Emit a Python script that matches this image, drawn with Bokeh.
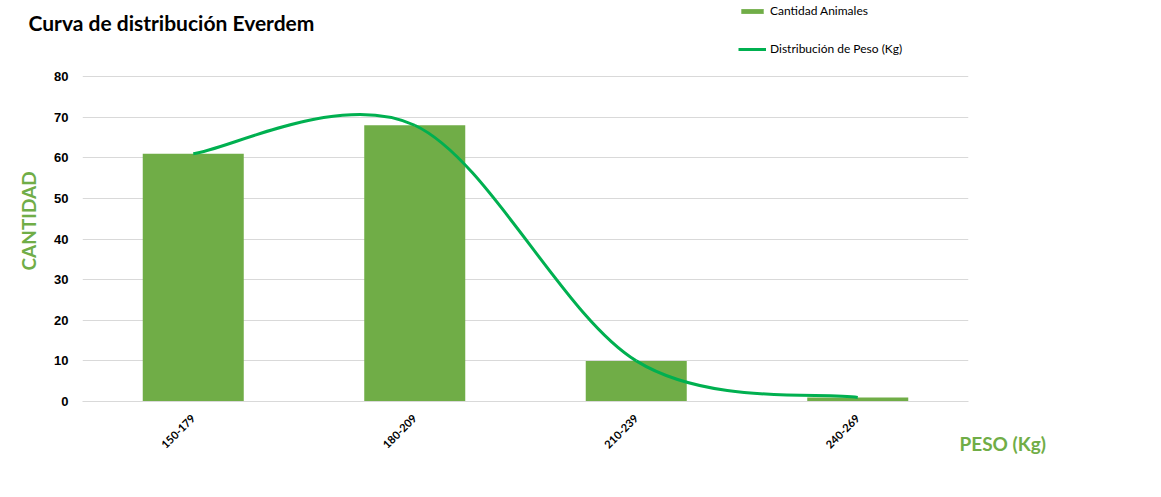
import numpy as np
from bokeh.plotting import figure
from bokeh.models import (Range1d, FixedTicker, SingleIntervalTicker, Title, Label,
                          Legend, LegendItem, ColumnDataSource)
from bokeh.embed import file_html
from bokeh.resources import INLINE

# ---- data ----
categories = ["150-179", "180-209", "210-239", "240-269"]
cantidad_animales = [61, 68, 10, 1]
distribucion_peso = [61, 68, 10, 1]
y_max = 80
y_step = 10

title_text = "Curva de distribución Everdem"
x_title = "PESO (Kg)"
y_title = "CANTIDAD"
legend_bar = "Cantidad Animales"
legend_line = "Distribución de Peso (Kg)"

BAR_COLOR = "#70AD47"
LINE_COLOR = "#00B050"
GRID_COLOR = "#D9D9D9"

W, H = 1161, 497
HEAD_H = 67                         # header strip (title + legend)
FL, FR, FT, FB = 82, 968, 75, 401   # frame edges on the whole page
n = len(categories)
xs = np.arange(n) + 0.5
ys = np.array(distribucion_peso, dtype=float)

# ---------------- header strip: title + legend ----------------
head = figure(width=W, height=HEAD_H, output_backend="svg", toolbar_location=None,
              x_range=Range1d(-100, -99), y_range=Range1d(-100, -99),
              x_axis_location=None, y_axis_location=None,
              min_border_left=0, min_border_right=0, min_border_top=0,
              min_border_bottom=0)
head.outline_line_color = None
head.grid.visible = False
head.border_fill_color = "white"

# legend keys: same series, far outside this strip's visible range
key_bar = head.vbar(x=xs, top=cantidad_animales, width=0.456, color=BAR_COLOR,
                    line_color=None)
key_line = head.line(x=xs, y=ys, line_color=LINE_COLOR, line_width=3)

head.add_layout(Label(x=28, y=HEAD_H - 22, x_units="screen", y_units="screen",
                      text=title_text, text_font="Lato", text_font_style="bold",
                      text_font_size="21px", text_color="black",
                      text_baseline="alphabetic"))
legend = Legend(items=[LegendItem(label=legend_bar, renderers=[key_bar]),
                       LegendItem(label=legend_line, renderers=[key_line])],
                location=(738, HEAD_H - 56), orientation="vertical",
                glyph_width=28, glyph_height=6, label_height=14, spacing=23,
                padding=0, margin=0, border_line_color=None,
                background_fill_alpha=0, label_text_font="Lato",
                label_text_font_size="12px", label_standoff=4,
                label_text_color="black")
head.add_layout(legend)

# ---------------- main chart ----------------
MH = H - HEAD_H
frame_h = FB - FT
p = figure(width=W, height=MH, output_backend="svg", toolbar_location=None,
           x_range=Range1d(0, n), y_range=Range1d(0, y_max * frame_h / (frame_h - 1)),
           min_border_left=FL, min_border_right=W - FR, min_border_top=FT - HEAD_H,
           min_border_bottom=H - FB)
p.outline_line_color = None
p.background_fill_color = "white"
p.border_fill_color = "white"

bars = p.vbar(x=xs, top=cantidad_animales, width=0.456, color=BAR_COLOR,
              line_color=None)

# smooth curve through the series (Catmull-Rom style Bezier segments)
seg = dict(x0=[], y0=[], x1=[], y1=[], cx0=[], cy0=[], cx1=[], cy1=[])
for i in range(n - 1):
    pr = max(i - 1, 0)
    nx = min(i + 2, n - 1)
    seg["x0"].append(xs[i]); seg["y0"].append(ys[i])
    seg["x1"].append(xs[i + 1]); seg["y1"].append(ys[i + 1])
    seg["cx0"].append(xs[i] + (xs[i + 1] - xs[pr]) / 6)
    seg["cy0"].append(ys[i] + (ys[i + 1] - ys[pr]) / 6)
    seg["cx1"].append(xs[i + 1] - (xs[nx] - xs[i]) / 6)
    seg["cy1"].append(ys[i + 1] - (ys[nx] - ys[i]) / 6)
curve = p.bezier(x0="x0", y0="y0", x1="x1", y1="y1", cx0="cx0", cy0="cy0",
                 cx1="cx1", cy1="cy1", source=ColumnDataSource(seg),
                 line_color=LINE_COLOR, line_width=3)

# axes
p.xaxis.ticker = FixedTicker(ticks=list(xs))
p.xaxis.major_label_overrides = {float(x): c for x, c in zip(xs, categories)}
p.xaxis.major_label_orientation = np.pi / 4
p.xaxis.major_label_text_font = "Lato"
p.xaxis.major_label_text_font_style = "bold"
p.xaxis.major_label_text_font_size = "11px"
p.xaxis.major_label_text_color = "black"
p.xaxis.major_label_standoff = 9
p.xaxis.axis_line_color = GRID_COLOR
p.xaxis.major_tick_line_color = None
p.xaxis.minor_tick_line_color = None

p.yaxis.ticker = SingleIntervalTicker(interval=y_step)
p.yaxis.major_label_text_font = "Liberation Sans"
p.yaxis.major_label_text_font_style = "bold"
p.yaxis.major_label_text_font_size = "13px"
p.yaxis.major_label_text_color = "black"
p.yaxis.major_label_standoff = 8
p.yaxis.axis_line_color = None
p.yaxis.major_tick_line_color = None
p.yaxis.minor_tick_line_color = None

p.xgrid.grid_line_color = None
p.ygrid.grid_line_color = GRID_COLOR
p.ygrid.grid_line_width = 1

# axis titles in side panels
p.add_layout(Title(text=y_title, align="left", offset=FB - 270, standoff=24,
                   text_font="Lato", text_font_style="bold",
                   text_font_size="19px", text_color=BAR_COLOR), "left")
p.add_layout(Title(text=x_title, align="left", offset=959 - FL, standoff=-48,
                   vertical_align="top",
                   text_font="Lato", text_font_style="bold",
                   text_font_size="19px", text_color=BAR_COLOR), "below")

open("out.html", "w").write(file_html([head, p], INLINE))
